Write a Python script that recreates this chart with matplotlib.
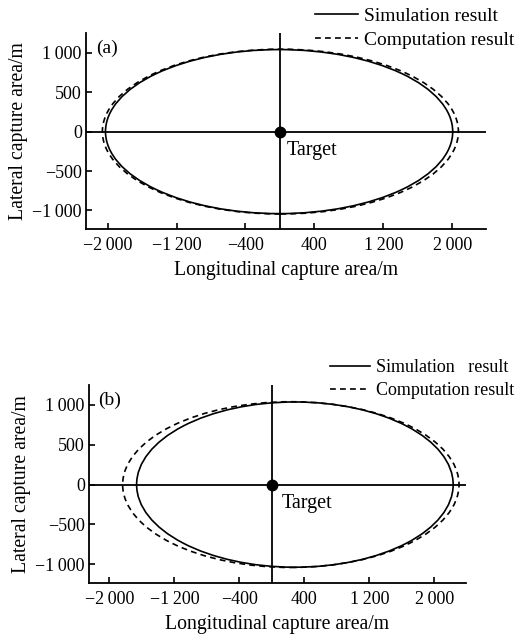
"""plot.py - capture area of simulation vs computation, panels (a) and (b)"""

import matplotlib
matplotlib.use('Agg')
import matplotlib.pyplot as plt
from matplotlib.patches import Ellipse
from matplotlib.lines import Line2D

plt.rcParams['font.family'] = ['Liberation Serif', 'DejaVu Serif']
plt.rcParams['font.size'] = 13

# ellipse fits: centre x, centre y, full width, full height
sim_a = dict(cx=-10, cy=0, width=4028, height=2080)
comp_a = dict(cx=5, cy=0, width=4130, height=2090)
sim_b = dict(cx=284, cy=0, width=3896, height=2074)
comp_b = dict(cx=234, cy=0, width=4140, height=2080)

x_ticks = [-2000, -1200, -400, 400, 1200, 2000]
x_labels = ['\u22122\u2009000', '\u22121\u2009200', '\u2212400', '400', '1\u2009200', '2\u2009000']
y_ticks = [-1000, -500, 0, 500, 1000]
y_labels = ['\u22121\u2009000', '\u2212500', '0', '500', '1\u2009000']
target = (0, 0)
xlim = (-2250, 2390)
ylim = (-1235, 1250)

W, H = 519, 634


def draw_panel(ax, sim, comp, tag, target_xy):
    for e, ls in ((comp, (0, (3.5, 2.5))), (sim, '-')):
        ax.add_patch(Ellipse((e['cx'], e['cy']), e['width'], e['height'],
                             fill=False, edgecolor='black', linewidth=1.2, linestyle=ls))
    ax.axhline(0, color='black', linewidth=1.3)
    ax.axvline(0, color='black', linewidth=1.3)
    ax.plot(*target, 'o', color='black', markersize=7.5, zorder=5)
    ax.text(*target_xy, 'Target', ha='left', va='center', fontsize=14.5)
    ax.text(0.025, 0.92, tag, transform=ax.transAxes, fontsize=14, ha='left', va='center')

    ax.set_xlim(*xlim)
    ax.set_ylim(*ylim)
    ax.set_xticks(x_ticks, x_labels)
    ax.set_yticks(y_ticks, y_labels)
    ax.tick_params(direction='in', length=4, width=1.2)
    ax.tick_params(axis='x', pad=6)
    ax.tick_params(axis='y', pad=3)
    for side in ('top', 'right'):
        ax.spines[side].set_visible(False)
    for side in ('left', 'bottom'):
        ax.spines[side].set_linewidth(1.3)
    ax.set_xlabel('Longitudinal capture area/m', labelpad=5, fontsize=14.2)
    ax.set_ylabel('Lateral capture area/m', labelpad=3, fontsize=14.2)


fig = plt.figure(figsize=(W / 100, H / 100), dpi=100)

ax_a = fig.add_axes([86 / W, 1 - 229 / H, 400 / W, 196 / H])
draw_panel(ax_a, sim_a, comp_a, '(a)', (80, -235))

ax_b = fig.add_axes([89 / W, 1 - 583 / H, 377 / W, 198 / H])
draw_panel(ax_b, sim_b, comp_b, '(b)', (116, -240))

handles = [Line2D([], [], color='black', linewidth=1.2),
           Line2D([], [], color='black', linewidth=1.2, linestyle=(0, (3.5, 2.5)))]
fig.legend(handles, ['Simulation result', 'Computation result'],
           loc='upper left', bbox_to_anchor=(315 / W, 1 - 7 / H), frameon=False,
           borderpad=0, borderaxespad=0, handlelength=2.2, handletextpad=0.3,
           labelspacing=0.35, fontsize=14)
fig.legend(handles, ['Simulation   result', 'Computation result'],
           loc='upper left', bbox_to_anchor=(330 / W, 1 - 359 / H), frameon=False,
           borderpad=0, borderaxespad=0, handlelength=2.2, handletextpad=0.35,
           labelspacing=0.35, fontsize=13)

fig.savefig('out.png', dpi=100)
